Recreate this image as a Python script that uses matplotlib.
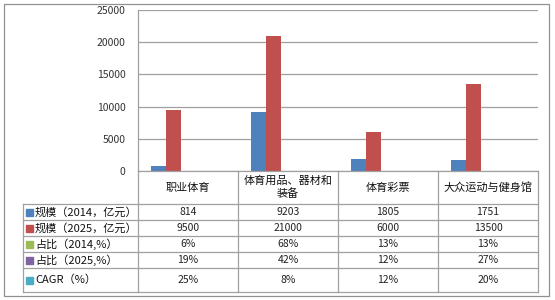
import matplotlib
matplotlib.use("Agg")
import matplotlib.pyplot as plt
from matplotlib.patches import Rectangle
from matplotlib.lines import Line2D
import numpy as np

plt.rcParams['font.family'] = ['Noto Sans CJK SC', 'DejaVu Sans']

categories = ['职业体育', '体育用品、器材和\n装备', '体育彩票', '大众运动与健身馆']
series_names = ['规模（2014，亿元）', '规模（2025，亿元）', '占比（2014,%）', '占比（2025,%）', 'CAGR（%）']
scale_2014 = [814, 9203, 1805, 1751]
scale_2025 = [9500, 21000, 6000, 13500]
share_2014 = [6, 68, 13, 13]
share_2025 = [19, 42, 12, 27]
cagr = [25, 8, 12, 20]
yticks = [0, 5000, 10000, 15000, 20000, 25000]

series = [scale_2014, scale_2025, share_2014, share_2025, cagr]
cell_text = [
    [str(v) for v in scale_2014],
    [str(v) for v in scale_2025],
    [f'{v}%' for v in share_2014],
    [f'{v}%' for v in share_2025],
    [f'{v}%' for v in cagr],
]
colors = ['#4F81BD', '#C0504D', '#9BBB59', '#8064A2', '#4BACC6']

W, H = 555, 300
fig = plt.figure(figsize=(W / 100, H / 100), dpi=100)

# plot area in pixels
px_l, px_r, px_t, px_b = 138, 538, 10, 171
ax = fig.add_axes([px_l / W, 1 - px_b / H, (px_r - px_l) / W, (px_b - px_t) / H])

x = np.arange(len(categories))
bw = 0.15
for i, (vals, c) in enumerate(zip(series, colors)):
    ax.bar(x + (i - 2) * bw, vals, bw, color=c, zorder=3)

ax.set_xlim(-0.5, len(categories) - 0.5)
ax.set_ylim(0, 25000)
ax.set_yticks(yticks)
ax.set_yticklabels([str(t) for t in yticks], fontsize=7.5, color='#333333')
ax.tick_params(axis='y', length=0, pad=9)
ax.set_xticks([])
ax.grid(axis='y', color='#A0A0A0', linewidth=0.9, zorder=0)
for s in ['top', 'right', 'bottom']:
    ax.spines[s].set_visible(False)
ax.spines['left'].set_color('#A0A0A0')
ax.spines['left'].set_linewidth(0.9)


def fx(px):
    return px / W


def fy(py):
    return 1 - py / H


line_c = '#A0A0A0'
# table geometry
col_edges = [px_l + (px_r - px_l) * k / len(categories) for k in range(len(categories) + 1)]
label_left = 23
row_edges = [px_b, 204, 220, 236, 252, 268, 292]

def hline(x0, x1, y):
    fig.add_artist(Line2D([fx(x0), fx(x1)], [fy(y), fy(y)], color=line_c, lw=0.9))

def vline(x, y0, y1):
    fig.add_artist(Line2D([fx(x), fx(x)], [fy(y0), fy(y1)], color=line_c, lw=0.9))

hline(px_l, px_r, row_edges[0])
for y in row_edges[1:]:
    hline(label_left, px_r, y)
for xe in col_edges:
    vline(xe, row_edges[0], row_edges[-1])
vline(label_left, row_edges[1], row_edges[-1])

# header
for k, cat in enumerate(categories):
    cx = (col_edges[k] + col_edges[k + 1]) / 2
    cy = (row_edges[0] + row_edges[1]) / 2
    fig.text(fx(cx), fy(cy), cat, ha='center', va='center', fontsize=8,
             linespacing=1.25, color='#111111')

# rows
for r, (name, c) in enumerate(zip(series_names, colors)):
    cy = (row_edges[r + 1] + row_edges[r + 2]) / 2
    fig.add_artist(Rectangle((fx(26), fy(cy + 3.5)), fx(7), 7 / H, color=c,
                             transform=fig.transFigure))
    fig.text(fx(35), fy(cy), name, ha='left', va='center', fontsize=8, color='#111111')
    for k in range(len(categories)):
        cx = (col_edges[k] + col_edges[k + 1]) / 2
        fig.text(fx(cx), fy(cy), cell_text[r][k], ha='center', va='center',
                 fontsize=7.5, color='#222222')

# outer border
fig.add_artist(Rectangle((fx(3.5), fy(295.5)), fx(545), 292 / H, fill=False,
                         edgecolor='#909090', lw=0.9, transform=fig.transFigure))

fig.savefig('out.png', dpi=100)
